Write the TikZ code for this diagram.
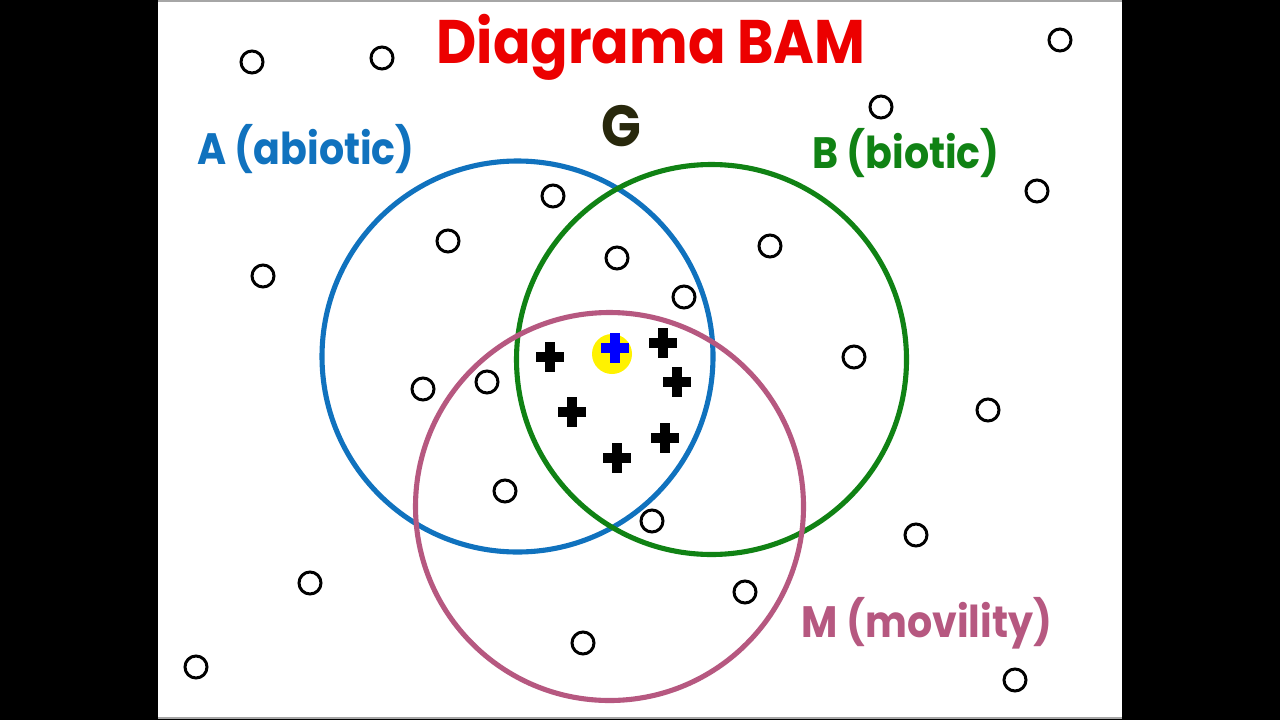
\documentclass[tikz,border=0pt]{standalone}
\usepackage{fontspec}
\setmainfont{Poppins}
\newfontfamily\bamfont[FakeStretch=0.9]{Poppins}
\usepackage{tikz}
\usetikzlibrary{positioning}
\definecolor{abioblue}{RGB}{16,114,190}
\definecolor{biogreen}{RGB}{16,130,20}
\definecolor{movpink}{RGB}{182,88,128}
\definecolor{titlered}{RGB}{236,0,0}
\definecolor{gdark}{RGB}{40,40,12}
\tikzset{
	site/.style={black, line width=1.7pt},
	plusmark/.style={line width=5.7pt},
	bigring/.style={line width=2.9pt},
	lbl/.style={font=\bamfont\bfseries\fontsize{25}{28}\selectfont, inner sep=0pt, anchor=base}
}
\begin{document}
\begin{tikzpicture}[x=0.02cm, y=-0.02cm]
	% Background and slide
	\fill[black] (0,0) rectangle (1280,720);
	\fill[white] (158,0) rectangle (1122,718);
	\draw[gray!70, line width=0.8pt] (158,1) -- (1122,1);
	\draw[gray!70, line width=0.8pt] (158,718) -- (1122,718);
	\useasboundingbox (0,0) rectangle (1280,720);
	
	% Title
	\node[titlered, font=\bamfont\bfseries\fontsize{35}{40}\selectfont, inner sep=0pt, anchor=base] (title) at (651,63) {Diagrama BAM};
	
	% The three sets
	\draw[bigring, abioblue] (517.5,356.5) circle (195.5);
	\draw[bigring, biogreen] (711.5,359.5) circle (195);
	\draw[bigring, movpink] (609.5,506.5) circle (194);
	
	% Labels
	\node[lbl, abioblue] (A) at (306,164) {A (abiotic)};
	\node[lbl, biogreen] (B) at (906,168) {B (biotic)};
	\node[lbl, movpink] (M) at (927,637) {M (movility)};
	\node[font=\bamfont\bfseries\fontsize{33}{36}\selectfont, gdark, inner sep=0pt, anchor=base] (G) at (621,146) {G};
	
	% Sites outside the overlap
	\foreach \x/\y in {252/62, 382/58, 1060/40, 881/107, 1037/191, 553/196,
		448/241, 617/258, 770/246, 263/276, 684/297, 854/357, 423/389,
		487/382, 988/410, 505/491, 652/521, 916/535, 310/583, 745/592,
		583/643, 196/667, 1015/680}
		\draw[site] (\x,\y) circle (11);
	
	% Highlight for the selected site
	\fill[yellow] (612,354) circle (20);
	
	% Presences in the overlap
	\foreach \x/\y in {550/357, 663/343, 677/382, 572/412, 665/438, 617/458}
		\draw[plusmark] (\x-14,\y) -- (\x+14,\y) (\x,\y-15) -- (\x,\y+15);
	\draw[plusmark, blue] (601,348) -- (629,348) (615,333) -- (615,363);
\end{tikzpicture}
\end{document}
